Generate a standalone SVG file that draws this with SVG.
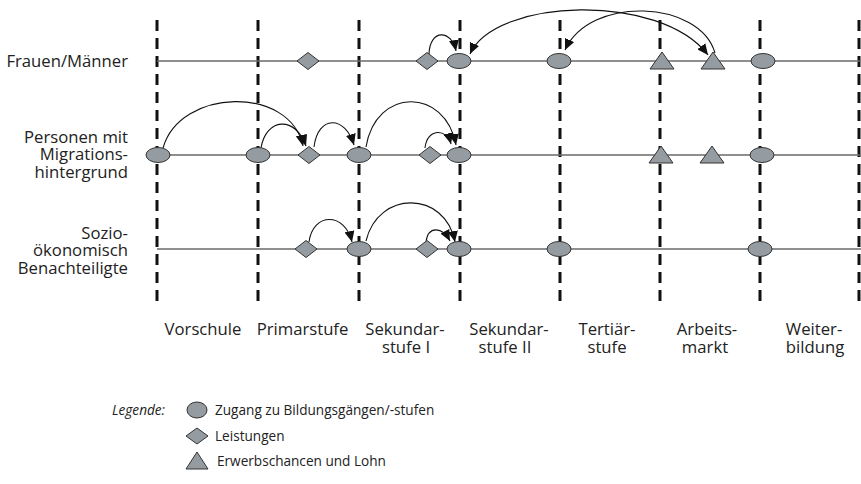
<svg xmlns="http://www.w3.org/2000/svg" width="861" height="484" viewBox="0 0 861 484">
<style>
.bg{fill:#ffffff}
.dash{stroke:#111;stroke-width:3;stroke-dasharray:11 7;fill:none}
.row{stroke:#6a6a6a;stroke-width:1.5;fill:none}
.shape{fill:#959ca1;stroke:#333;stroke-width:1}
.arc{fill:none;stroke:#111;stroke-width:1.1;marker-end:url(#ah)}
.arc2{marker-start:url(#ah)}
.lbl{font-family:"Open Sans","Liberation Sans",sans-serif;font-size:16.7px;fill:#222}
.leg{font-family:"Open Sans","Liberation Sans",sans-serif;font-size:13.6px;fill:#222}
.r{text-anchor:end}
.m{text-anchor:middle}
.it{font-style:italic}
</style>
<defs>
<marker id="ah" markerUnits="userSpaceOnUse" markerWidth="12" markerHeight="10" refX="11" refY="5" orient="auto-start-reverse">
<path d="M0,0 L11,5 L0,10 z" fill="#111"/>
</marker>
</defs>
<rect class="bg" x="0" y="0" width="861" height="484"/>
<g id="grid">
<line class="dash" x1="157" y1="20" x2="157" y2="308"/>
<line class="dash" x1="258" y1="20" x2="258" y2="308"/>
<line class="dash" x1="359" y1="20" x2="359" y2="308"/>
<line class="dash" x1="460" y1="20" x2="460" y2="308"/>
<line class="dash" x1="560" y1="20" x2="560" y2="308"/>
<line class="dash" x1="660" y1="20" x2="660" y2="308"/>
<line class="dash" x1="760" y1="20" x2="760" y2="308"/>
<line class="dash" x1="859" y1="20" x2="859" y2="308"/>
<line class="row" x1="157" y1="61" x2="861" y2="61"/>
<line class="row" x1="157" y1="155" x2="861" y2="155"/>
<line class="row" x1="157" y1="249" x2="861" y2="249"/>
</g>
<g id="row-labels">
<text class="lbl r" x="128" y="67">Frauen/Männer</text>
<text class="lbl r" x="128" y="142.5">Personen mit</text>
<text class="lbl r" x="128" y="160">Migrations-</text>
<text class="lbl r" x="128" y="177.5">hintergrund</text>
<text class="lbl r" x="128" y="238.5">Sozio-</text>
<text class="lbl r" x="128" y="256">ökonomisch</text>
<text class="lbl r" x="128" y="273.5">Benachteiligte</text>
</g>
<g id="stage-labels">
<text class="lbl m" x="203" y="335">Vorschule</text>
<text class="lbl m" x="302.5" y="335">Primarstufe</text>
<text class="lbl m" x="405" y="335">Sekundar-</text>
<text class="lbl m" x="406" y="353">stufe I</text>
<text class="lbl m" x="509" y="335">Sekundar-</text>
<text class="lbl m" x="505" y="353">stufe II</text>
<text class="lbl m" x="607" y="335">Tertiär-</text>
<text class="lbl m" x="607" y="353">stufe</text>
<text class="lbl m" x="707" y="335">Arbeits-</text>
<text class="lbl m" x="705" y="353">markt</text>
<text class="lbl m" x="814" y="335">Weiter-</text>
<text class="lbl m" x="815" y="353">bildung</text>
</g>
<g id="connectors">
<path class="arc" d="M429,54 C430,28 452,30 456,51"/>
<path class="arc arc2" d="M470,54 C495,-2 660,-8 708,55"/>
<path class="arc" d="M715,53 C700,0 590,-5 565,50"/>
<path class="arc" d="M163,148 C180,88 290,85 303,146"/>
<path class="arc" d="M261,148 C266,118 295,115 306,146"/>
<path class="arc" d="M314,147 C318,115 345,115 354,145"/>
<path class="arc" d="M366,147 C376,87 445,87 456,145"/>
<path class="arc" d="M425,148 C427,128 447,128 451,144"/>
<path class="arc" d="M309,242 C313,212 345,212 352,242"/>
<path class="arc" d="M366,241 C378,190 445,190 455,242"/>
<path class="arc" d="M426,242 C428,226 442,226 450,241"/>
</g>
<g id="row1-nodes">
<polygon id="r1-d1" class="shape" points="297,61 308,52.5 319,61 308,69.5"/>
<polygon id="r1-d2" class="shape" points="416,61 427,52.5 438,61 427,69.5"/>
<ellipse id="r1-e1" class="shape" cx="459" cy="61" rx="12" ry="7.5"/>
<ellipse id="r1-e2" class="shape" cx="559" cy="61" rx="12" ry="7.5"/>
<polygon id="r1-t1" class="shape" points="662,52 674,69 650,69"/>
<polygon id="r1-t2" class="shape" points="713,52 725,69 701,69"/>
<ellipse id="r1-e3" class="shape" cx="763" cy="61" rx="12" ry="7.5"/>
</g>
<g id="row2-nodes">
<ellipse id="r2-e1" class="shape" cx="158" cy="155" rx="12" ry="7.5"/>
<ellipse id="r2-e2" class="shape" cx="258" cy="155" rx="12" ry="7.5"/>
<polygon id="r2-d1" class="shape" points="298,155 309,146.5 320,155 309,163.5"/>
<ellipse id="r2-e3" class="shape" cx="359" cy="155" rx="12" ry="7.5"/>
<polygon id="r2-d2" class="shape" points="419,155 430,146.5 441,155 430,163.5"/>
<ellipse id="r2-e4" class="shape" cx="459" cy="155" rx="12" ry="7.5"/>
<polygon id="r2-t1" class="shape" points="661,146 673,163 649,163"/>
<polygon id="r2-t2" class="shape" points="712,146 724,163 700,163"/>
<ellipse id="r2-e5" class="shape" cx="762" cy="155" rx="12" ry="7.5"/>
</g>
<g id="row3-nodes">
<polygon id="r3-d1" class="shape" points="295,249 306,240.5 317,249 306,257.5"/>
<ellipse id="r3-e1" class="shape" cx="359" cy="249" rx="12" ry="7.5"/>
<polygon id="r3-d2" class="shape" points="416,249 427,240.5 438,249 427,257.5"/>
<ellipse id="r3-e2" class="shape" cx="459" cy="249" rx="12" ry="7.5"/>
<ellipse id="r3-e3" class="shape" cx="559" cy="249" rx="12" ry="7.5"/>
<ellipse id="r3-e4" class="shape" cx="760" cy="249" rx="12" ry="7.5"/>
</g>
<g id="legend">
<text class="leg r it" x="165" y="415">Legende:</text>
<ellipse class="shape" cx="197" cy="410" rx="10" ry="8"/>
<text class="leg" x="215" y="415">Zugang zu Bildungsgängen/-stufen</text>
<polygon class="shape" points="186,436 197,428 208,436 197,444"/>
<text class="leg" x="215" y="441">Leistungen</text>
<polygon class="shape" points="197,452 208,469 186,469"/>
<text class="leg" x="217" y="466">Erwerbschancen und Lohn</text>
</g>
</svg>
